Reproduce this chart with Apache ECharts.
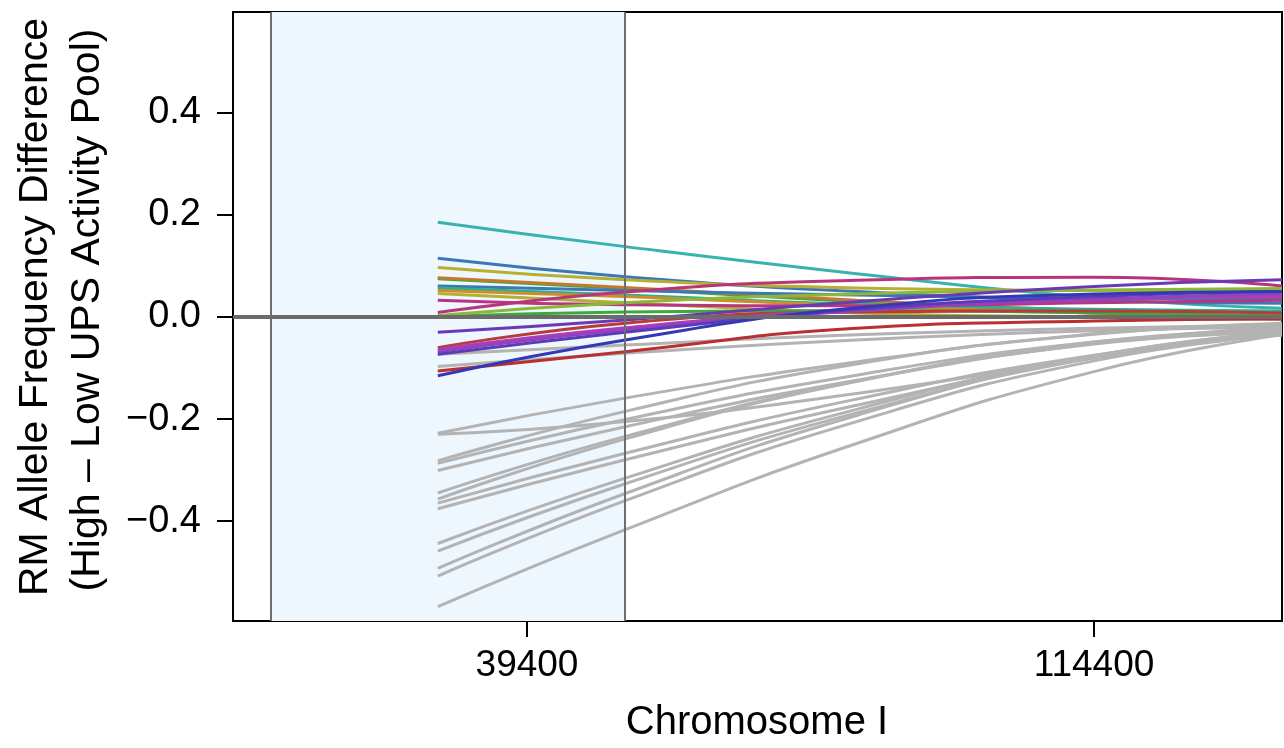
<!DOCTYPE html>
<html>
<head>
<meta charset="utf-8">
<script src="https://cdn.jsdelivr.net/npm/echarts@6/dist/echarts.min.js"></script>
<style>
html,body{margin:0;padding:0;background:#fff;}
#c{width:1284px;height:748px;}
</style>
</head>
<body>
<div id="c"></div>
<script>
// positions (Chromosome I, bp) where each smoothed curve is read
const xPositions = [27600, 52400, 83000, 114400, 139270];
const xTicks = [39400, 114400];
const yTicks = [-0.4, -0.2, 0, 0.2, 0.4];
const shadedRegion = [5536, 52363];

// grey curves (values at xPositions)
const grayValues = [
  [-0.228, -0.159, -0.088, -0.034, -0.012],
  [-0.230, -0.205, -0.150, -0.080, -0.025],
  [-0.282, -0.185, -0.092, -0.033, -0.015],
  [-0.287, -0.201, -0.114, -0.049, -0.025],
  [-0.301, -0.215, -0.124, -0.052, -0.020],
  [-0.345, -0.234, -0.126, -0.053, -0.030],
  [-0.357, -0.239, -0.126, -0.049, -0.025],
  [-0.365, -0.267, -0.161, -0.075, -0.035],
  [-0.376, -0.280, -0.173, -0.080, -0.030],
  [-0.444, -0.316, -0.181, -0.076, -0.030],
  [-0.459, -0.327, -0.188, -0.080, -0.035],
  [-0.493, -0.346, -0.193, -0.077, -0.030],
  [-0.508, -0.360, -0.205, -0.086, -0.035],
  [-0.568, -0.417, -0.248, -0.107, -0.035],
  [-0.073, -0.055, -0.035, -0.022, -0.015],
  [-0.097, -0.071, -0.045, -0.027, -0.020]
];

// coloured curves
const colorValues = [
  [0.186, 0.138, 0.085, 0.038, 0.017],
  [0.115, 0.079, 0.050, 0.032, 0.027],
  [0.097, 0.073, 0.057, 0.052, 0.050],
  [0.075, 0.056, 0.030, 0.008, -0.004],
  [0.077, 0.058, 0.033, 0.012, 0.002],
  [0.061, 0.052, 0.043, 0.037, 0.035],
  [0.057, 0.043, 0.025, 0.015, 0.012],
  [0.052, 0.040, 0.022, 0.008, 0.003],
  [0.046, 0.028, 0.008, 0.000, -0.004],
  [0.033, 0.024, 0.022, 0.028, 0.033],
  [0.009, 0.049, 0.072, 0.078, 0.061],
  [0.001, 0.010, 0.013, 0.008, 0.002],
  [0.003, 0.028, 0.045, 0.053, 0.056],
  [-0.030, -0.006, 0.030, 0.060, 0.073],
  [-0.060, -0.012, 0.010, 0.012, 0.008],
  [-0.063, -0.021, 0.015, 0.035, 0.040],
  [-0.068, -0.025, 0.012, 0.035, 0.045],
  [-0.073, -0.030, 0.015, 0.040, 0.050],
  [-0.106, -0.068, -0.022, -0.008, -0.004],
  [-0.115, -0.045, 0.018, 0.045, 0.050]
];
const colorHex = [
  '#36B3AE', '#3C78B5', '#B5B030', '#3BAA3B', '#C47A2E',
  '#3C78B5', '#2EAF8E', '#CF8C2E', '#B5B030', '#B83582',
  '#B8357A', '#3BAA3B', '#8BB83A', '#6A3AB6', '#B83A3A',
  '#AD3DBA', '#9640BE', '#5A3CB8', '#B83030', '#3438B5'
];

const FONT = 'Liberation Sans';
const chart = echarts.init(document.getElementById('c'), null, {renderer: 'canvas'});

const toPts = vals => vals.map((v, i) => [xPositions[i], v]);

const series = [];
series.push({
  type: 'line', data: [], z: 1, silent: true,
  markArea: {
    silent: true,
    itemStyle: {color: '#EEF6FE'},
    data: [[{xAxis: shadedRegion[0]}, {xAxis: shadedRegion[1]}]]
  },
  markLine: {
    silent: true, symbol: 'none', label: {show: false},
    data: [
      {xAxis: shadedRegion[0], lineStyle: {color: '#6E6E6E', width: 2, type: 'solid'}},
      {xAxis: shadedRegion[1], lineStyle: {color: '#6E6E6E', width: 2, type: 'solid'}},
      {yAxis: 0, lineStyle: {color: '#6B6B6B', width: 4, type: 'solid'}}
    ]
  }
});
grayValues.forEach((vals, i) => {
  series.push({
    type: 'line', data: toPts(vals), smooth: 0.5,
    showSymbol: false, z: 3,
    lineStyle: {color: '#B3B3B3', width: 3}
  });
});
colorValues.forEach((vals, i) => {
  series.push({
    type: 'line', data: toPts(vals), smooth: 0.5,
    showSymbol: false, z: 4,
    lineStyle: {color: colorHex[i], width: 3}
  });
});

chart.setOption({
  animation: false,
  grid: {left: 233, right: 2, top: 12, bottom: 127, show: true, borderColor: '#000', borderWidth: 2, backgroundColor: 'transparent'},
  xAxis: {
    type: 'value', min: 511, max: 139270,
    axisLine: {show: true, onZero: false, lineStyle: {color: '#000', width: 2}},
    axisTick: {show: true, length: 16, lineStyle: {color: '#000', width: 2}, customValues: xTicks},
    axisLabel: {customValues: xTicks, fontSize: 37, fontFamily: FONT, color: '#000', margin: 26, formatter: v => String(v)},
    splitLine: {show: false}
  },
  yAxis: {
    type: 'value', min: -0.596, max: 0.598,
    axisLine: {show: true, onZero: false, lineStyle: {color: '#000', width: 2}},
    axisTick: {show: true, length: 16, lineStyle: {color: '#000', width: 2}, customValues: yTicks},
    axisLabel: {customValues: yTicks, fontSize: 38, fontFamily: FONT, color: '#000', margin: 32,
      formatter: v => (Math.abs(v) < 1e-9 ? '0.0' : (v < 0 ? '\u2212' : '') + Math.abs(v).toFixed(1))},
    splitLine: {show: false}
  },
  graphic: [
    {type: 'text', x: 36, y: 307, rotation: Math.PI / 2,
      style: {text: 'RM Allele Frequency Difference', font: '41px "Liberation Sans"', fill: '#000', align: 'center', verticalAlign: 'middle'}},
    {type: 'text', x: 88, y: 310, rotation: Math.PI / 2,
      style: {text: '(High \u2013 Low UPS Activity Pool)', font: '41px "Liberation Sans"', fill: '#000', align: 'center', verticalAlign: 'middle'}},
    {type: 'text', x: 757, y: 723,
      style: {text: 'Chromosome I', font: '40px "Liberation Sans"', fill: '#000', align: 'center', verticalAlign: 'middle'}}
  ],
  series: series
});
</script>
</body>
</html>
